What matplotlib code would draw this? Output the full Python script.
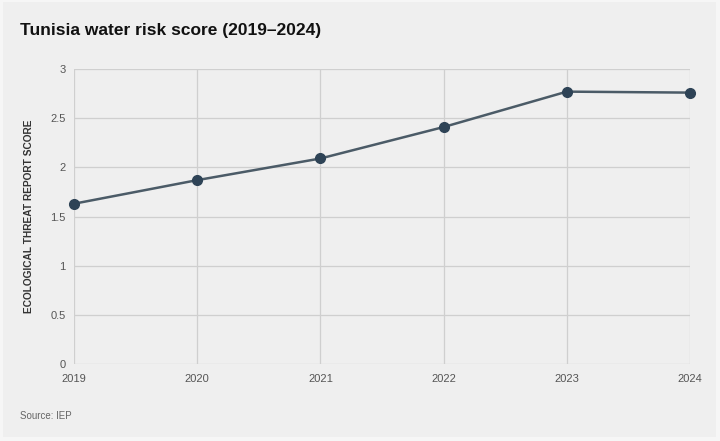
#!/usr/bin/env python3
"""Tunisia water risk score, 2019-2024 (line chart with markers)."""
import matplotlib
matplotlib.use("Agg")
import matplotlib.pyplot as plt
from matplotlib.patches import Rectangle

years = [2019, 2020, 2021, 2022, 2023, 2024]
scores = [1.63, 1.87, 2.09, 2.41, 2.77, 2.76]
y_ticks = [0, 0.5, 1, 1.5, 2, 2.5, 3]
y_tick_labels = ["0", "0.5", "1", "1.5", "2", "2.5", "3"]

plt.rcParams["font.family"] = ["Liberation Sans", "DejaVu Sans"]

fig = plt.figure(figsize=(7.2, 4.41), dpi=100)
fig.patch.set_facecolor("#f6f6f6")
# card background
fig.patches.append(Rectangle((0.004, 0.01), 0.99, 0.985, transform=fig.transFigure,
                             facecolor="#efefef", edgecolor="none", zorder=-10))

ax = fig.add_axes([0.1028, 0.1746, 0.8556, 0.6689])
ax.set_facecolor("#efefef")

ax.plot(years, scores, color="#4b5b67", lw=1.8, marker="o", ms=7,
        mfc="#2e4356", mec="#2e4356", zorder=3, clip_on=False)

ax.set_xlim(2019, 2024)
ax.set_ylim(0, 3)
ax.set_xticks(years)
ax.set_xticklabels([str(y) for y in years])
ax.set_yticks(y_ticks)
ax.set_yticklabels(y_tick_labels)

ax.grid(True, color="#cfcfcf", lw=0.9)
ax.set_axisbelow(True)
for side in ["top", "right", "left", "bottom"]:
    ax.spines[side].set_visible(False)
ax.tick_params(length=0, labelsize=8, colors="#555555")
ax.tick_params(axis="y", pad=6)
ax.tick_params(axis="x", pad=7)

ax.set_ylabel("ECOLOGICAL THREAT REPORT SCORE", fontsize=7.3, fontweight="bold",
              color="#333333", labelpad=12)

fig.text(0.028, 0.93, "Tunisia water risk score (2019\u20132024)", fontsize=12.5,
         fontweight="bold", color="#111111", va="center")
fig.text(0.028, 0.057, "Source: IEP", fontsize=7, color="#666666", va="center")

fig.savefig("out.png", dpi=100, facecolor=fig.get_facecolor())
